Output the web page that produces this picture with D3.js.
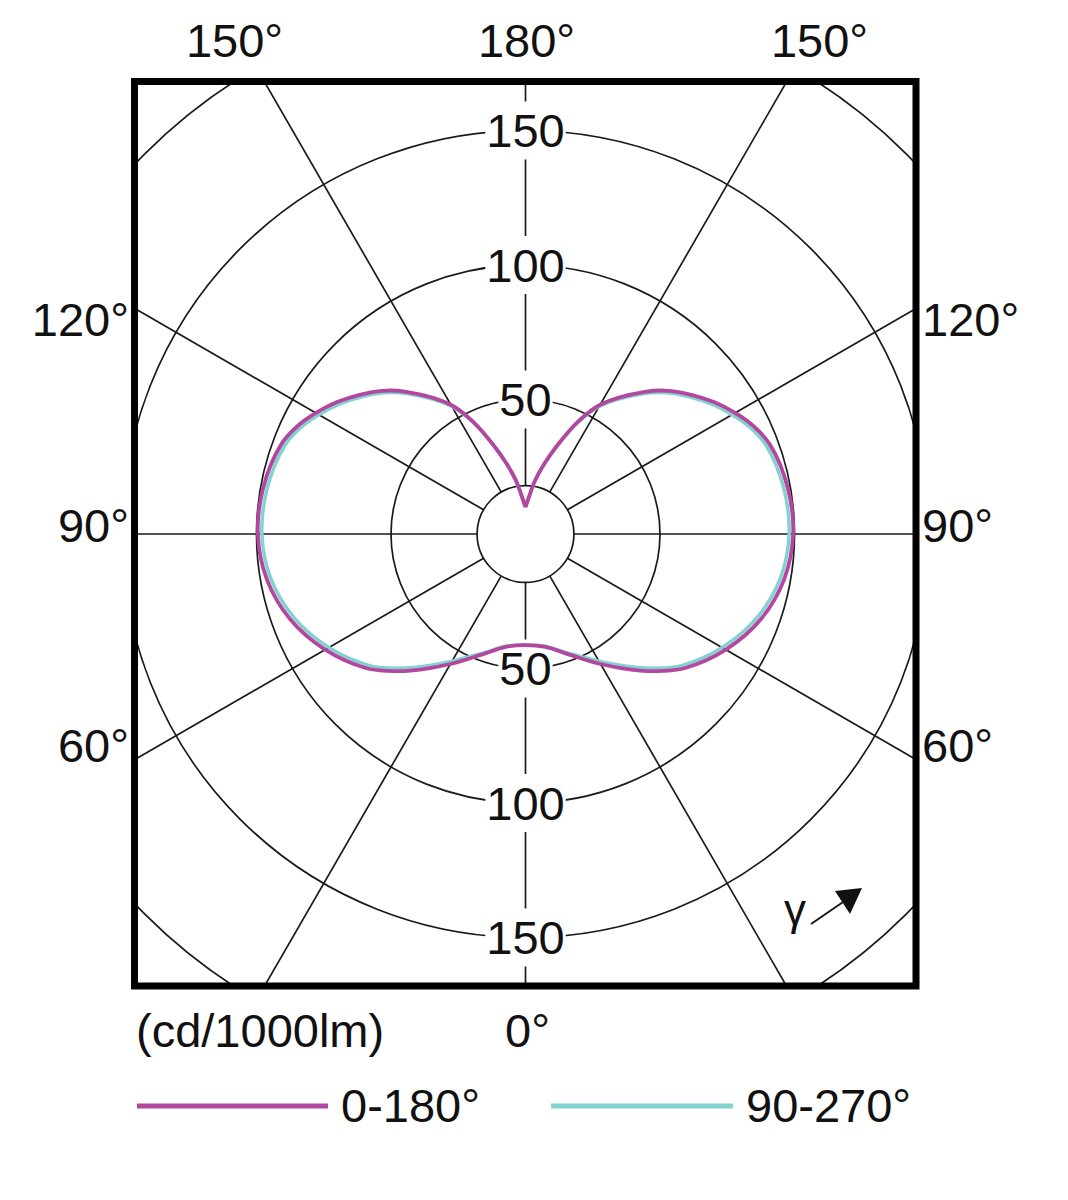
<!DOCTYPE html>
<html>
<head>
<meta charset="utf-8">
<script src="https://cdn.jsdelivr.net/npm/d3@7"></script>
<style>
  html, body { margin: 0; padding: 0; background: #fff; }
  svg { display: block; }
  text { font-family: "Liberation Sans", "DejaVu Sans", sans-serif; fill: #111; }
</style>
</head>
<body>
<svg id="chart" width="1068" height="1200"></svg>
<script>
// ---------- data ----------
const gammaDeg   = [0, 10, 20, 30, 40, 45, 50, 60, 70, 80, 90, 100, 110, 115, 120, 125, 130, 135, 140, 150, 155, 160, 165, 170, 175, 180];
const c0_180     = [41.3, 42.6, 47.7, 55.8, 66.3, 72, 77.5, 86, 93, 97.6, 99.5, 99, 96.8, 94, 90, 85.5, 80.5, 75.3, 69, 55.5, 46, 35.5, 27, 20, 13.5, 10];
const c90_270    = [41.3, 42.4, 47.2, 54.6, 64.8, 70.5, 76, 84.4, 91.4, 96.1, 98, 97.5, 95.4, 92.7, 88.7, 84.3, 79.4, 74.3, 68.1, 54.8, 45.5, 35.2, 26.8, 20, 13.5, 10];
const ringValues = [50, 100, 150, 200];
const ringLabels = [50, 100, 150];
const spokeAngles = [0, 30, 60, 90, 120, 150, 180, 210, 240, 270, 300, 330];
const topLabels  = ["150°", "180°", "150°"];
const sideLabels = ["120°", "90°", "60°"];
const bottomLabel = "0°";
const unitLabel  = "(cd/1000lm)";
const seriesNames = ["0-180°", "90-270°"];
const seriesColors = ["#b3479f", "#84d2d0"];
const hubValue = 18;

// ---------- layout ----------
const svg = d3.select("#chart");
const cx = 525.5, cy = 534;
const box = { x0: 134.5, y0: 81.5, x1: 916, y1: 986 };
const r = d3.scaleLinear().domain([0, 200]).range([0, 538]);
const FS = 47;

const defs = svg.append("defs");
defs.append("clipPath").attr("id", "plotclip")
  .append("rect")
  .attr("x", box.x0).attr("y", box.y0)
  .attr("width", box.x1 - box.x0).attr("height", box.y1 - box.y0);

const g = svg.append("g").attr("clip-path", "url(#plotclip)");
const c = g.append("g").attr("transform", `translate(${cx},${cy})`);

// rings
c.selectAll("circle.ring").data(ringValues).join("circle")
  .attr("class", "ring")
  .attr("r", d => r(d))
  .attr("fill", "none").attr("stroke", "#1a1a1a").attr("stroke-width", 1.7);

// hub circle
c.append("circle").attr("r", r(hubValue))
  .attr("fill", "none").attr("stroke", "#1a1a1a").attr("stroke-width", 1.7);

// spokes (gamma measured from downward direction)
c.selectAll("line.spoke").data(spokeAngles).join("line")
  .attr("class", "spoke")
  .attr("x1", d => r(hubValue) * Math.sin(d * Math.PI / 180))
  .attr("y1", d => r(hubValue) * Math.cos(d * Math.PI / 180))
  .attr("x2", d => 800 * Math.sin(d * Math.PI / 180))
  .attr("y2", d => 800 * Math.cos(d * Math.PI / 180))
  .attr("stroke", "#1a1a1a").attr("stroke-width", 1.7);

// ring labels above and below the centre
const lblData = [];
ringLabels.forEach(v => { lblData.push({ v, y: -r(v) }); lblData.push({ v, y: r(v) }); });
const lg = c.selectAll("g.rl").data(lblData).join("g").attr("class", "rl")
  .attr("transform", d => `translate(0,${d.y})`);
lg.append("text")
  .attr("text-anchor", "middle").attr("dy", "0.36em")
  .attr("font-size", FS)
  .text(d => d.v);
lg.each(function () {
  const t = d3.select(this).select("text");
  const bb = t.node().getBBox();
  d3.select(this).insert("rect", "text")
    .attr("x", bb.x - 1).attr("width", bb.width + 2)
    .attr("y", -29).attr("height", 58)
    .attr("fill", "#fff");
});

// curves
const toPoints = (vals) => {
  const left = gammaDeg.map((gd, i) => [Math.PI + gd * Math.PI / 180, r(vals[i])]).reverse();
  const right = gammaDeg.map((gd, i) => [Math.PI - gd * Math.PI / 180, r(vals[i])]).slice(1);
  return left.concat(right);
};
const radial = d3.lineRadial()
  .angle(d => d[0]).radius(d => d[1])
  .curve(d3.curveCatmullRom.alpha(0.5));

c.append("path").attr("d", radial(toPoints(c90_270)))
  .attr("fill", "none").attr("stroke", seriesColors[1]).attr("stroke-width", 3.5)
  .attr("stroke-linejoin", "miter");
c.append("path").attr("d", radial(toPoints(c0_180)))
  .attr("fill", "none").attr("stroke", seriesColors[0]).attr("stroke-width", 3.8)
  .attr("stroke-linejoin", "miter");

// frame
svg.append("rect")
  .attr("x", box.x0).attr("y", box.y0)
  .attr("width", box.x1 - box.x0).attr("height", box.y1 - box.y0)
  .attr("fill", "none").attr("stroke", "#000").attr("stroke-width", 7);

// angle labels outside the frame
const topX = [cx - 291, cx + 1, cx + 294];
svg.selectAll("text.top").data(topLabels).join("text")
  .attr("class", "top")
  .attr("x", (d, i) => topX[i]).attr("y", 57)
  .attr("text-anchor", "middle").attr("font-size", FS)
  .text(d => d);

const sideY = [336, 542, 762];
svg.selectAll("text.sideL").data(sideLabels).join("text")
  .attr("class", "sideL")
  .attr("x", 129).attr("y", (d, i) => sideY[i])
  .attr("text-anchor", "end").attr("font-size", FS)
  .text(d => d);
svg.selectAll("text.sideR").data(sideLabels).join("text")
  .attr("class", "sideR")
  .attr("x", 922).attr("y", (d, i) => sideY[i])
  .attr("text-anchor", "start").attr("font-size", FS)
  .text(d => d);

svg.append("text").attr("x", cx + 2).attr("y", 1047)
  .attr("text-anchor", "middle").attr("font-size", FS).text(bottomLabel);
svg.append("text").attr("x", 136).attr("y", 1047)
  .attr("text-anchor", "start").attr("font-size", FS).text(unitLabel);

// gamma indicator
svg.append("text").attr("x", 795).attr("y", 925)
  .attr("text-anchor", "middle").attr("font-size", 44).text("γ");
svg.append("line")
  .attr("x1", 811).attr("y1", 924).attr("x2", 846).attr("y2", 900)
  .attr("stroke", "#111").attr("stroke-width", 1.8);
svg.append("path")
  .attr("d", "M835,891 L862,888 L850,914 Z")
  .attr("fill", "#111");

// legend
const legX = [137, 551];
const legLen = [191, 182];
const leg = svg.selectAll("g.leg").data(seriesNames).join("g").attr("class", "leg");
leg.append("line")
  .attr("x1", (d, i) => legX[i]).attr("x2", (d, i) => legX[i] + legLen[i])
  .attr("y1", 1106).attr("y2", 1106)
  .attr("stroke", (d, i) => seriesColors[i]).attr("stroke-width", 5);
leg.append("text")
  .attr("x", (d, i) => legX[i] + legLen[i] + 13).attr("y", 1122)
  .attr("font-size", FS).text(d => d);
</script>
</body>
</html>
